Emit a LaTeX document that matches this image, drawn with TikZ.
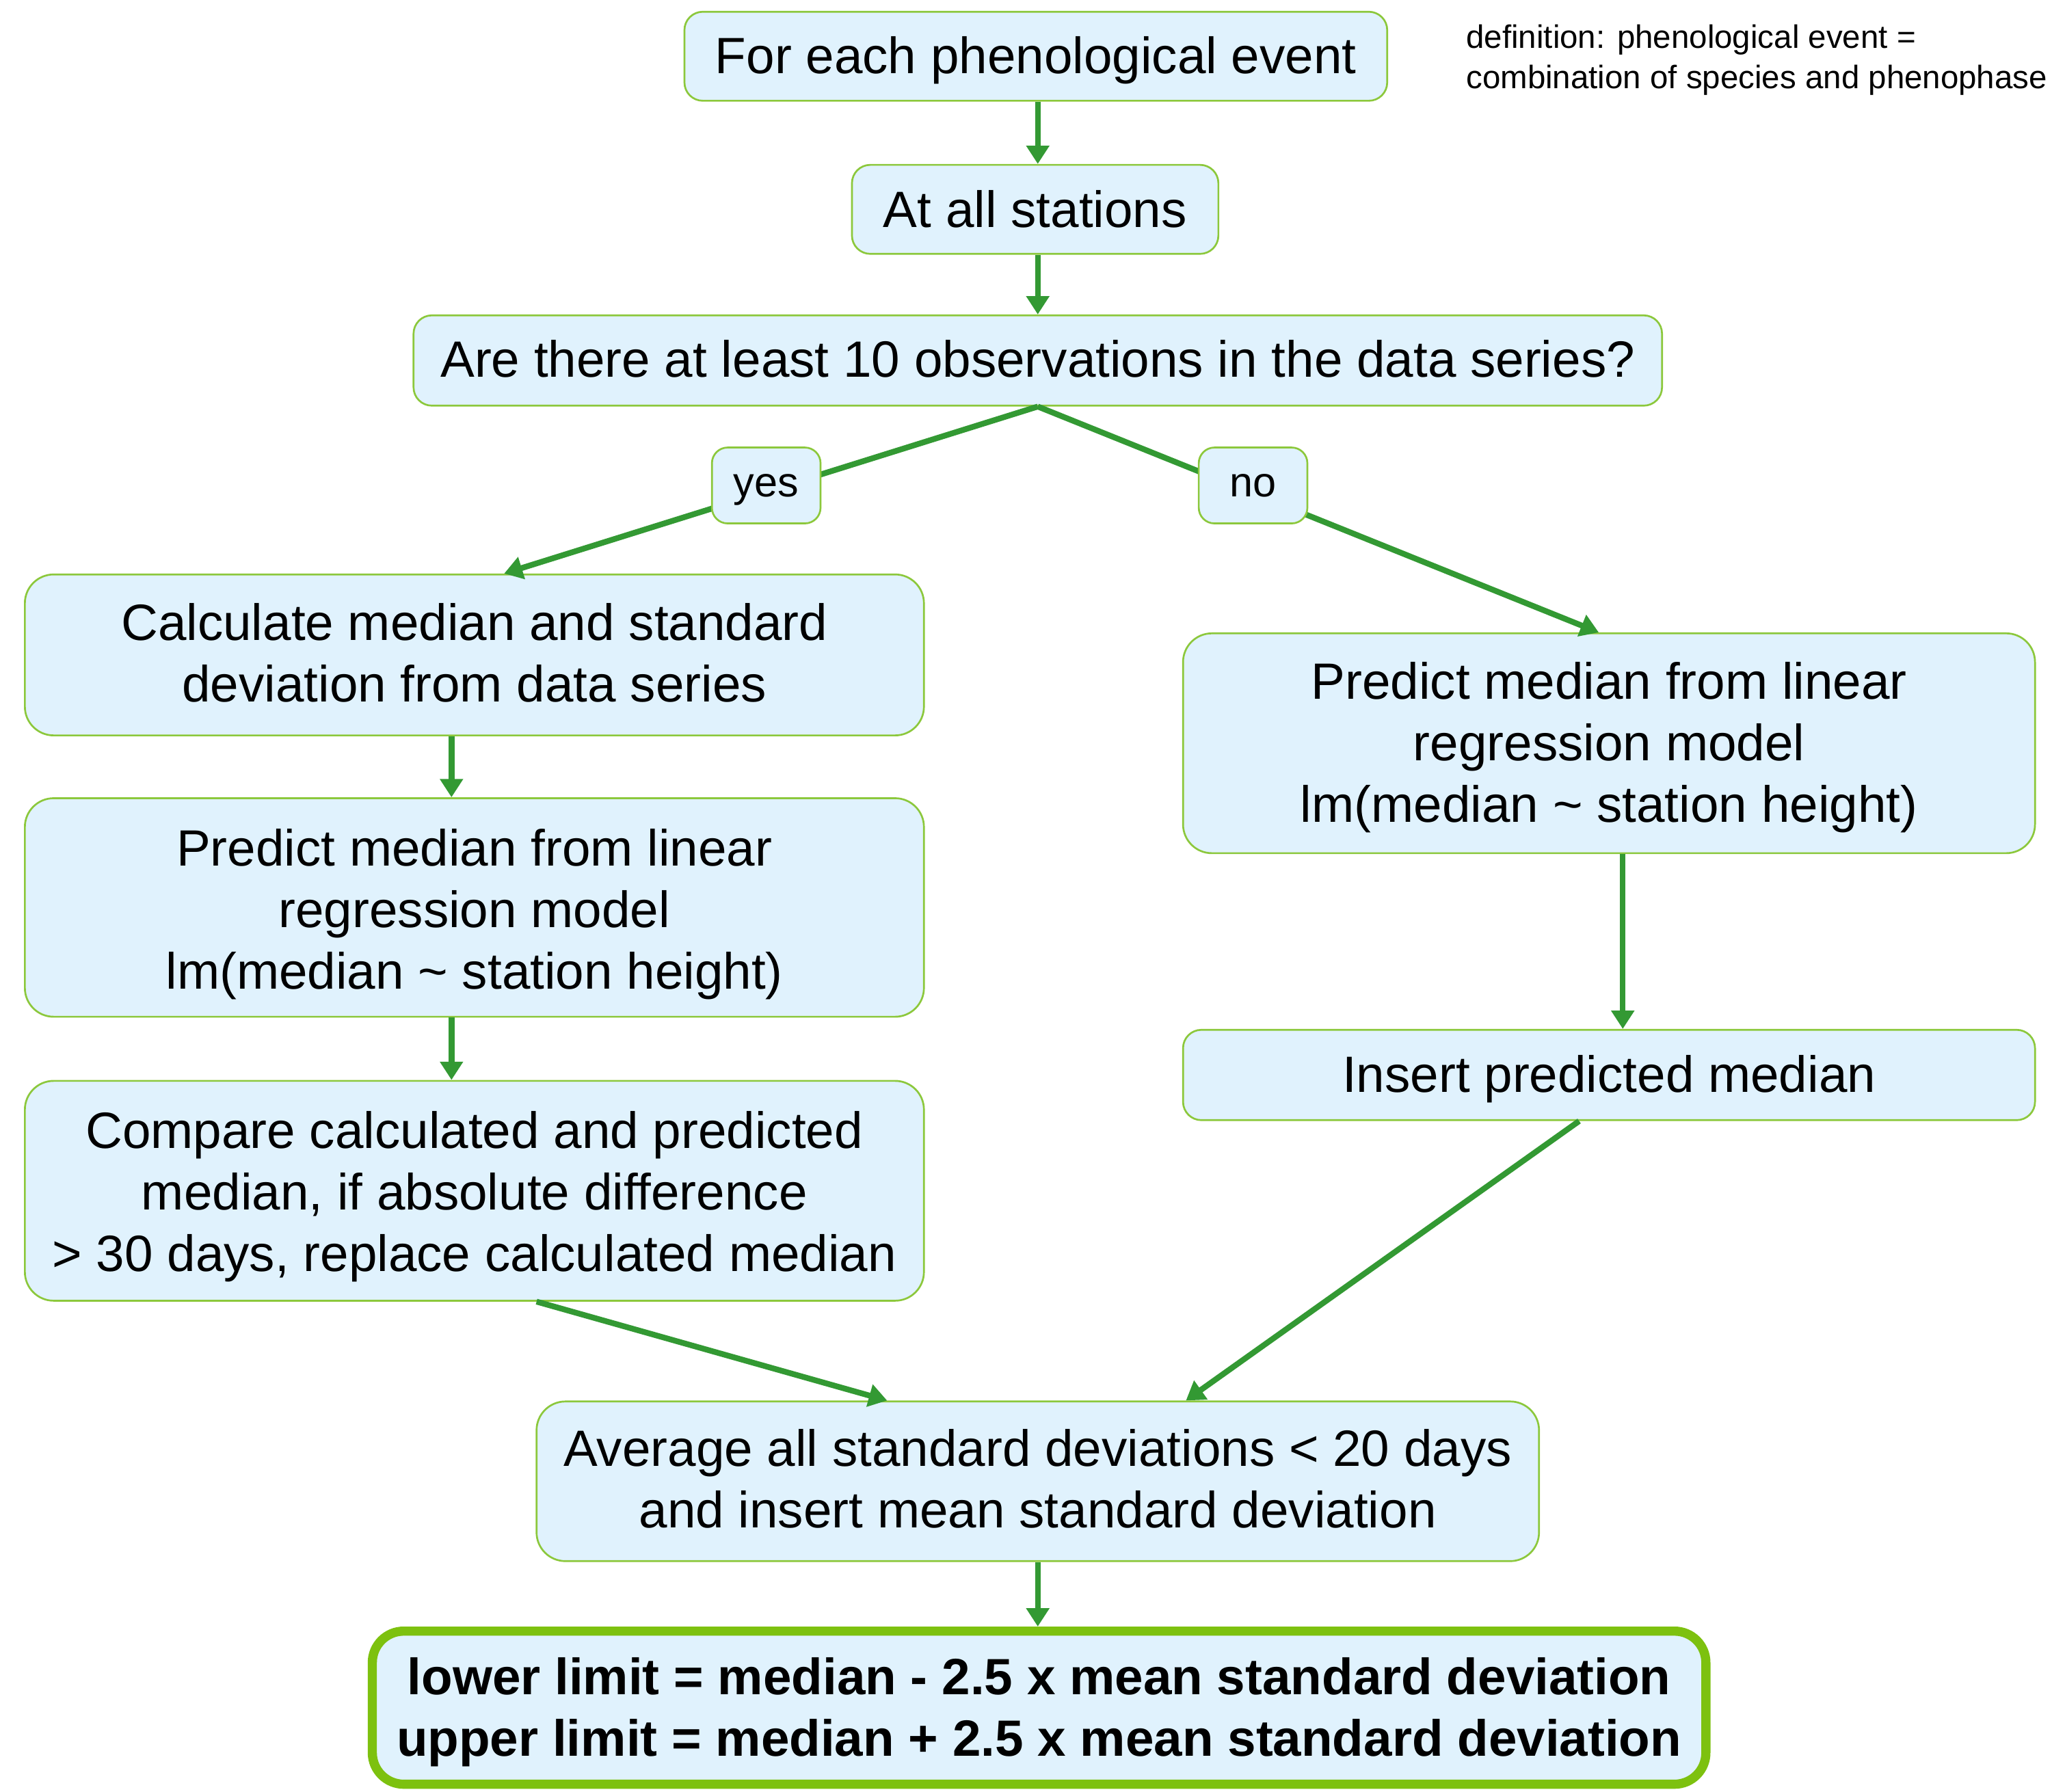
\documentclass[tikz,border=0pt]{standalone}
\usepackage{fontspec}
\setmainfont{Liberation Sans}
\usetikzlibrary{arrows.meta,calc}
\definecolor{boxblue}{RGB}{224,242,253}
\definecolor{boxedge}{RGB}{140,200,60}
\definecolor{arrgreen}{RGB}{51,153,51}
\definecolor{thickedge}{RGB}{125,193,15}
\newcommand{\tstr}[1]{\rule{0pt}{#1}}
\newcommand{\dstr}[1]{\rule[-#1]{0pt}{0pt}}
\begin{document}
\begin{tikzpicture}[x=0.5pt,y=-0.5pt,
 box/.style={draw=boxedge, fill=boxblue, line width=0.7pt, rounded corners=7pt, align=center, inner sep=0pt, font=\fontsize{19.5}{23.5}\selectfont},
 bigbox/.style={box, rounded corners=11pt},
 lbl/.style={box, font=\fontsize{16}{19}\selectfont, minimum width=41.5pt, minimum height=29pt, rounded corners=6pt, text height=8.5pt, text depth=0pt},
 arr/.style={draw=arrgreen, line width=2.2pt, -{Triangle[length=7pt,width=8.5pt]}},
 ]
\useasboundingbox (0,0) rectangle (1568,1369);

\node[box, minimum width=268.5pt, minimum height=34pt] (n1) at (791.5,43) {\tstr{17.2pt}For each phenological event};
\node[box, minimum width=140pt, minimum height=34pt] (n2) at (791,160) {At all stations};
\node[box, minimum width=477pt, minimum height=34.5pt] (n3) at (793,275.5) {Are there at least 10 observations in the data series?\dstr{1.5pt}};
\node[bigbox, minimum width=343.5pt, minimum height=61.5pt] (n6) at (362.5,500.5) {Calculate median and standard\\deviation from data series\dstr{2pt}};
\node[bigbox, minimum width=343.5pt, minimum height=83.5pt] (n7) at (362.5,693.5) {\tstr{19.2pt}Predict median from linear\\regression model\\lm(median \textasciitilde{} station height)};
\node[bigbox, minimum width=343.5pt, minimum height=84pt] (n8) at (362.5,910) {\tstr{18.4pt}Compare calculated and predicted\\median, if absolute difference\\> 30 days, replace calculated median};
\node[bigbox, minimum width=325.5pt, minimum height=84pt] (n9) at (1229.5,568) {\tstr{17.4pt}Predict median from linear\\regression model\\lm(median \textasciitilde{} station height)};
\node[box, minimum width=325.5pt, minimum height=34.5pt] (n10) at (1229.5,821.5) {\tstr{17.2pt}Insert predicted median};
\node[bigbox, minimum width=383pt, minimum height=61pt] (n11) at (793,1132) {Average all standard deviations < 20 days\\and insert mean standard deviation\dstr{2pt}};
\node[bigbox, draw=thickedge, line width=3.5pt, rounded corners=12pt, minimum width=509.5pt, minimum height=58.5pt, font=\bfseries\fontsize{19.5}{23.5}\selectfont] (n12) at (794,1305) {\tstr{17.4pt}lower limit = median - 2.5 x mean standard deviation\\upper limit = median + 2.5 x mean standard deviation};

\node[anchor=west, align=left, inner sep=0pt, font=\fontsize{12.4}{15.5}\selectfont] (def) at (1120,46) {definition: phenological event =\\combination of species and phenophase};

\coordinate (cmid) at (793,0);
\coordinate (c67) at (345,0);
\coordinate (c910) at (1240,0);

\draw[arr] (n1.south -| cmid) -- (n2.north -| cmid);
\draw[arr] (n2.south -| cmid) -- (n3.north -| cmid);
\draw[arr] (n3.south) -- ($(n6.north west)!0.533!(n6.north east)$);
\draw[arr] (n3.south) -- ($(n9.north west)!0.488!(n9.north east)$);
\draw[arr] (n6.south -| c67) -- (n7.north -| c67);
\draw[arr] (n7.south -| c67) -- (n8.north -| c67);
\draw[arr] ($(n8.south west)!0.569!(n8.south east)$) -- ($(n11.north west)!0.35!(n11.north east)$);
\draw[arr] (n9.south -| c910) -- (n10.north -| c910);
\draw[arr] ($(n10.south west)!0.465!(n10.south east)$) -- ($(n11.north west)!0.6475!(n11.north east)$);
\draw[arr] (n11.south -| cmid) -- (n12.north -| cmid);

\node[lbl] (yes) at (585.5,371) {yes};
\node[lbl] (no) at (957.5,371) {no};
\end{tikzpicture}
\end{document}
